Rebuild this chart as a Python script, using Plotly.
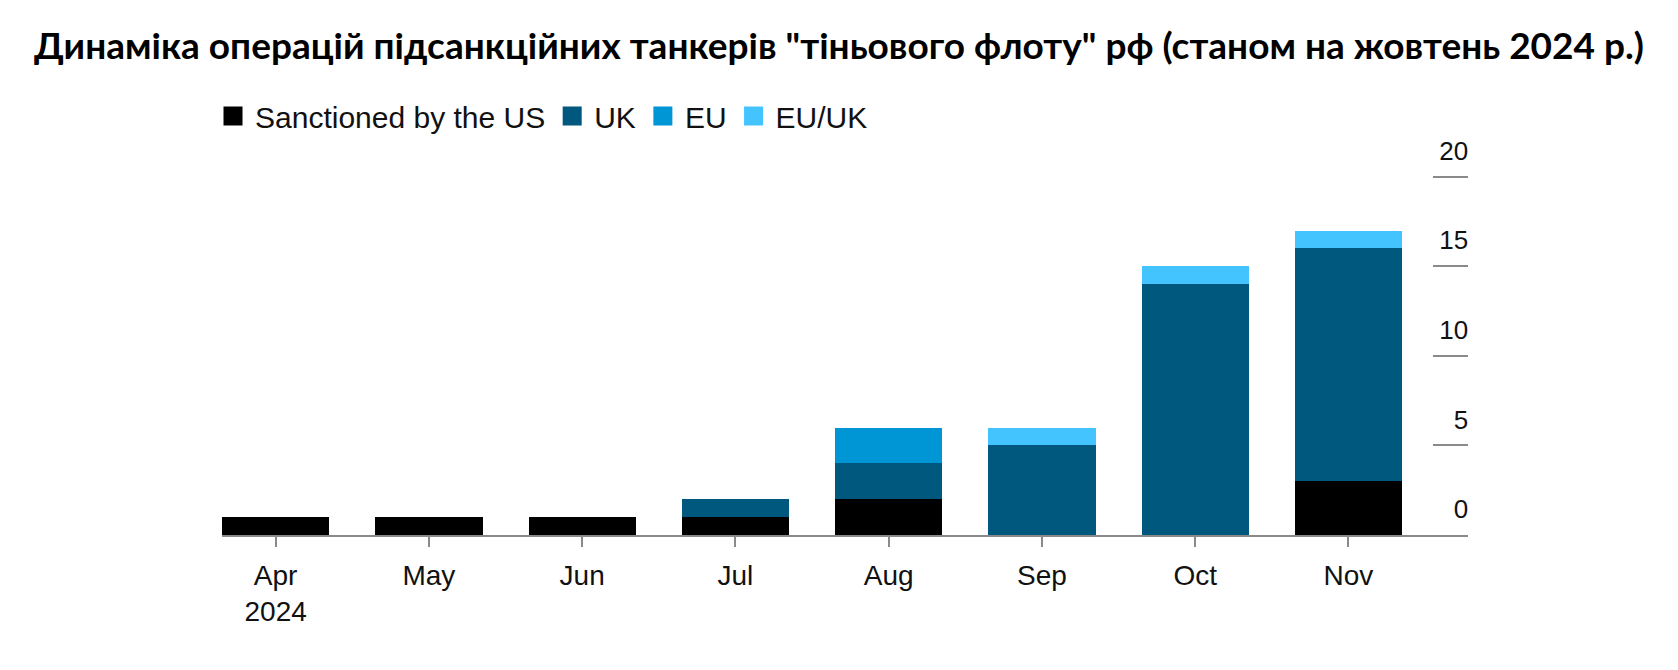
import plotly.graph_objects as go

# ---- data ----
months = ["Apr<br>2024", "May", "Jun", "Jul", "Aug", "Sep", "Oct", "Nov"]
sanctioned_us = [1, 1, 1, 1, 2, 0, 0, 3]
sanctioned_uk = [0, 0, 0, 1, 2, 5, 14, 13]
sanctioned_eu = [0, 0, 0, 0, 2, 0, 0, 0]
sanctioned_euuk = [0, 0, 0, 0, 0, 1, 1, 1]
series_names = ["Sanctioned by the US", "UK", "EU", "EU/UK"]
y_ticks = [0, 5, 10, 15, 20]
title_text = 'Динаміка операцій підсанкційних танкерів "тіньового флоту" рф (станом на жовтень 2024 р.)'

# ---- style ----
colors = ["#000000", "#00587e", "#0096d6", "#44c4ff"]
W, H = 1678, 670
FONT = "Liberation Sans, Arial, sans-serif"
GRAY = "#8a8a8a"

series_values = [sanctioned_us, sanctioned_uk, sanctioned_eu, sanctioned_euuk]

fig = go.Figure()
for name, vals, c in zip(series_names, series_values, colors):
    fig.add_trace(go.Bar(x=months, y=vals, name=name, marker=dict(color=c, line=dict(width=0)),
                         showlegend=False))
# legend entries (bigger square symbols)
for name, c in zip(series_names, colors):
    fig.add_trace(go.Scatter(x=[None], y=[None], mode="markers", name=name,
                             marker=dict(symbol="square", size=16, color=c, line=dict(width=3, color=c)),
                             showlegend=True))

fig.update_layout(
    width=W, height=H,
    margin=dict(l=222, r=210, t=132, b=135, autoexpand=False),
    paper_bgcolor="white", plot_bgcolor="white",
    barmode="stack", bargap=0.30,
    font=dict(family=FONT, color="#111111"),
    title=dict(text=title_text, x=0.5, xref="container", xanchor="center",
               y=1 - 46 / H, yref="container", yanchor="middle",
               font=dict(family="Lato, Open Sans, sans-serif", size=37, weight=700, color="#000000")),
    legend=dict(orientation="h", xref="container", yref="container",
                x=211 / W, xanchor="left", y=1 - 116 / H, yanchor="middle",
                font=dict(family=FONT, size=30, color="#111111"),
                itemwidth=34, bgcolor="rgba(0,0,0,0)", traceorder="normal"),
    xaxis=dict(type="category", range=[-0.35, 7.78], showline=True, linecolor=GRAY, linewidth=2,
               ticks="outside", ticklen=10, tickwidth=2, tickcolor=GRAY, ticklabelstandoff=4,
               automargin=False,
               tickfont=dict(family=FONT, size=28, color="#111111"), showgrid=False, zeroline=False),
    yaxis=dict(side="right", range=[0, 22.5], tickvals=y_ticks, ticks="inside", ticklen=35,
               tickwidth=2, tickcolor=GRAY, ticklabelposition="inside", ticklabelshift=-26,
               ticklabelstandoff=-33, automargin=False,
               tickfont=dict(family=FONT, size=26, color="#111111"),
               showgrid=False, zeroline=False, showline=False),
)

fig.write_html("out.html")
